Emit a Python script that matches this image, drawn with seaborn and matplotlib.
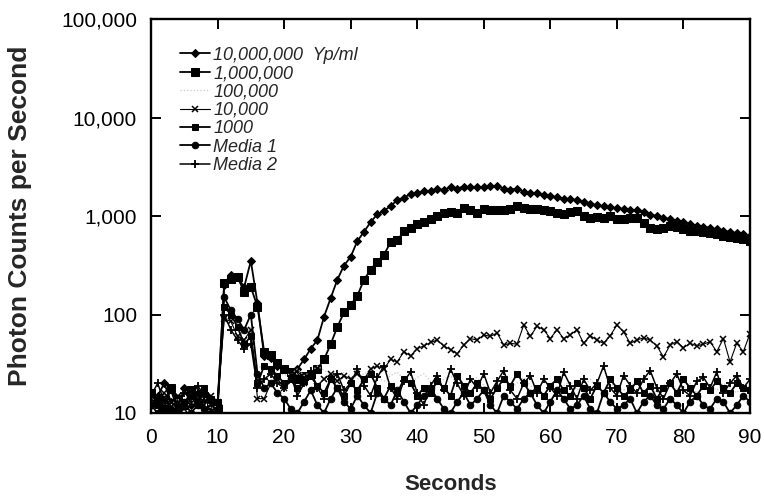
import numpy as np
import pandas as pd
import matplotlib
matplotlib.use("Agg")
import matplotlib.pyplot as plt
from matplotlib.ticker import FixedLocator, NullLocator, FixedFormatter
import seaborn as sns

seconds = list(range(0, 91))

yp_10m = [12, 15, 20, 13, 11, 18, 12, 16, 14, 13, 12,
          200, 250, 240, 190, 350, 130,
          38, 36, 30, 28, 25, 28, 35, 45, 55, 95,
          147, 226, 314, 385, 556, 691, 868, 1040, 1124, 1265, 1446, 1537, 1665,
          1700, 1780, 1800, 1870, 1850, 1950, 1900, 1990, 1950, 1950, 1950,
          2000, 2000, 1900, 1850, 1900, 1750, 1700, 1700, 1650, 1600,
          1550, 1500, 1480, 1450, 1400, 1320, 1300, 1250, 1220, 1200,
          1180, 1150, 1140, 1100, 1030, 1000, 960, 930, 900, 860,
          830, 800, 780, 760, 730, 710, 690, 670, 650, 620]

yp_1m = [16, 13, 11, 18, 14, 12, 17, 13, 15, 12, 11,
         210, 230, 240, 170, 190, 120,
         42, 39, 32, 28, 26, 22, 24, 25, 28, 35,
         50, 75, 105, 125, 155, 225, 285, 345, 405, 540, 565, 700, 760,
         820, 870, 940, 1010, 1080, 1100, 1080, 1210, 1140, 1080, 1170,
         1150, 1150, 1150, 1180, 1265, 1200, 1180, 1170, 1150, 1120,
         1080, 1050, 1100, 1125, 1000, 961, 980, 960, 1000, 940,
         925, 950, 961, 850, 760, 732, 760, 790, 780, 740,
         703, 700, 690, 676, 650, 625, 610, 592, 580, 560]

yp_100k = [13, 11, 15, 12, 14, 11, 13, 12, 15, 11, 12,
           130, 95, 80, 65, 75, 30,
           28, 30, 26, 24, 25, 28, 24, 26, 30, 27, 25, 22, 26,
           24, 22, 25, 27, 23, 21, 24, 26, 22, 20,
           23, 25, 21, 19, 22, 24, 20, 18, 21, 23,
           19, 17, 20, 22, 18, 20, 23, 19, 17, 21,
           18, 16, 19, 21, 17, 19, 22, 18, 16, 20,
           18, 17, 19, 21, 17, 18, 16, 19, 21, 17,
           18, 20, 16, 18, 19, 17, 20, 18, 16, 19, 18]

yp_10k = [14, 12, 16, 13, 15, 11, 17, 14, 12, 15, 13,
          90, 85, 60, 55, 70, 14,
          14, 20, 22, 18, 21, 24, 20, 23, 19, 22, 25, 21, 24,
          22, 25, 22, 28, 30, 28, 35, 33, 42, 38,
          45, 48, 52, 55, 48, 44, 40, 49, 57, 55,
          62, 60, 65, 49, 51, 50, 78, 60, 76, 70,
          57, 70, 57, 62, 70, 51, 61, 55, 51, 61,
          78, 67, 51, 55, 58, 55, 48, 37, 49, 53,
          46, 51, 48, 50, 53, 42, 57, 33, 51, 42, 64]

yp_1000 = [16, 12, 14, 17, 11, 13, 15, 12, 18, 14, 13,
           120, 100, 75, 50, 60, 20,
           30, 28, 24, 20, 22, 18, 21, 24, 19, 16, 22, 18, 15,
           20, 17, 22, 25, 18, 14, 19, 16, 22, 20,
           15, 18, 16, 21, 18, 15, 24, 19, 16, 20,
           17, 14, 18, 22, 19, 25, 20, 16, 18, 15,
           19, 22, 17, 15, 20, 18, 14, 19, 16, 22,
           18, 15, 17, 21, 16, 19, 14, 18, 20, 16,
           22, 18, 15, 19, 17, 21, 18, 16, 20, 18, 17]

media_1 = [12, 10, 14, 11, 10, 13, 10, 12, 11, 10, 11,
           150, 110, 90, 70, 100, 25,
           18, 20, 16, 14, 11, 10, 13, 17, 12, 10, 14, 18, 13,
           11, 15, 12, 10, 16, 14, 12, 17, 13, 10,
           12, 15, 18, 14, 11, 10, 13, 16, 12, 14,
           17, 12, 10, 15, 13, 11, 14, 16, 12, 10,
           13, 17, 14, 11, 12, 15, 11, 10, 16, 13,
           11, 12, 14, 10, 13, 15, 12, 11, 14, 12,
           10, 13, 15, 12, 11, 14, 13, 10, 12, 15, 13]

media_2 = [15, 20, 13, 18, 12, 16, 14, 19, 15, 13, 12,
           100, 70, 55, 45, 50, 18,
           22, 25, 20, 18, 24, 15, 20, 27, 18, 14, 22, 25, 17,
           20, 28, 19, 15, 23, 30, 18, 14, 21, 26,
           16, 12, 19, 24, 17, 28, 20, 15, 22, 18,
           25, 16, 21, 27, 17, 14, 20, 24, 16, 22,
           18, 15, 26, 19, 14, 22, 17, 20, 30, 18,
           15, 24, 19, 16, 22, 27, 18, 14, 20, 25,
           17, 15, 21, 23, 18, 26, 16, 20, 24, 18, 22]

series_labels = ["10,000,000  Yp/ml", "1,000,000", "100,000", "10,000",
                 "1000", "Media 1", "Media 2"]
series_values = [yp_10m, yp_1m, yp_100k, yp_10k, yp_1000, media_1, media_2]

y_ticks = [10, 100, 1000, 10000, 100000]
y_tick_labels = ["10", "100", "1,000", "10,000", "100,000"]
x_ticks = [0, 10, 20, 30, 40, 50, 60, 70, 80, 90]

styles = [
    dict(marker="D", markersize=3.8, linewidth=1.3, color="black"),
    dict(marker="s", markersize=5.2, linewidth=1.3, color="black"),
    dict(marker=None, linewidth=0.9, color="#c8c8c8", linestyle=":"),
    dict(marker="x", markersize=4.5, linewidth=0.8, color="black", markeredgewidth=1.1),
    dict(marker="s", markersize=4.4, linewidth=1.3, color="black"),
    dict(marker="o", markersize=4.7, linewidth=1.3, color="black"),
    dict(marker="+", markersize=5.5, linewidth=1.1, color="black", markeredgewidth=1.3),
]

sns.set_theme(style="ticks")
plt.rcParams["font.family"] = ["Liberation Sans", "DejaVu Sans"]

fig = plt.figure(figsize=(7.64, 5.0), dpi=100)
ax = fig.add_axes([151 / 764, 1 - 413 / 500, (750 - 151) / 764, (413 - 19) / 500])

for label, vals, st in zip(series_labels, series_values, styles):
    df = pd.DataFrame({"Seconds": seconds, "Counts": vals})
    kw = dict(st)
    color = kw.pop("color")
    sns.lineplot(data=df, x="Seconds", y="Counts", ax=ax, color=color,
                 label=label, markeredgecolor=color, markerfacecolor=color, **kw)

ax.set_yscale("log")
ax.set_ylim(10, 100000)
ax.set_xlim(0, 90)
ax.yaxis.set_major_locator(FixedLocator(y_ticks))
ax.yaxis.set_major_formatter(FixedFormatter(y_tick_labels))
ax.yaxis.set_minor_locator(NullLocator())
ax.xaxis.set_major_locator(FixedLocator(x_ticks))

for sp in ax.spines.values():
    sp.set_linewidth(1.7)
    sp.set_color("black")
    sp.set_visible(True)

ax.tick_params(axis="both", which="major", direction="in", length=7, width=1.4,
               top=True, right=True, labelsize=15, colors="black")
ax.tick_params(axis="y", pad=10)
ax.tick_params(axis="x", pad=11)

ax.set_xlabel("Seconds", fontsize=16, fontweight="bold")
ax.set_ylabel("Photon Counts per Second", fontsize=19, fontweight="bold")
ax.xaxis.set_label_coords(0.5, -0.155)
ax.yaxis.set_label_coords(-0.198, 0.5)

leg = ax.legend(loc="upper left", bbox_to_anchor=(0.048, 0.93), frameon=False,
                borderpad=0, borderaxespad=0, labelspacing=0.08, handlelength=1.7,
                handletextpad=0.15, prop={"style": "italic", "size": 13})

fig.savefig("out.png", dpi=100)
